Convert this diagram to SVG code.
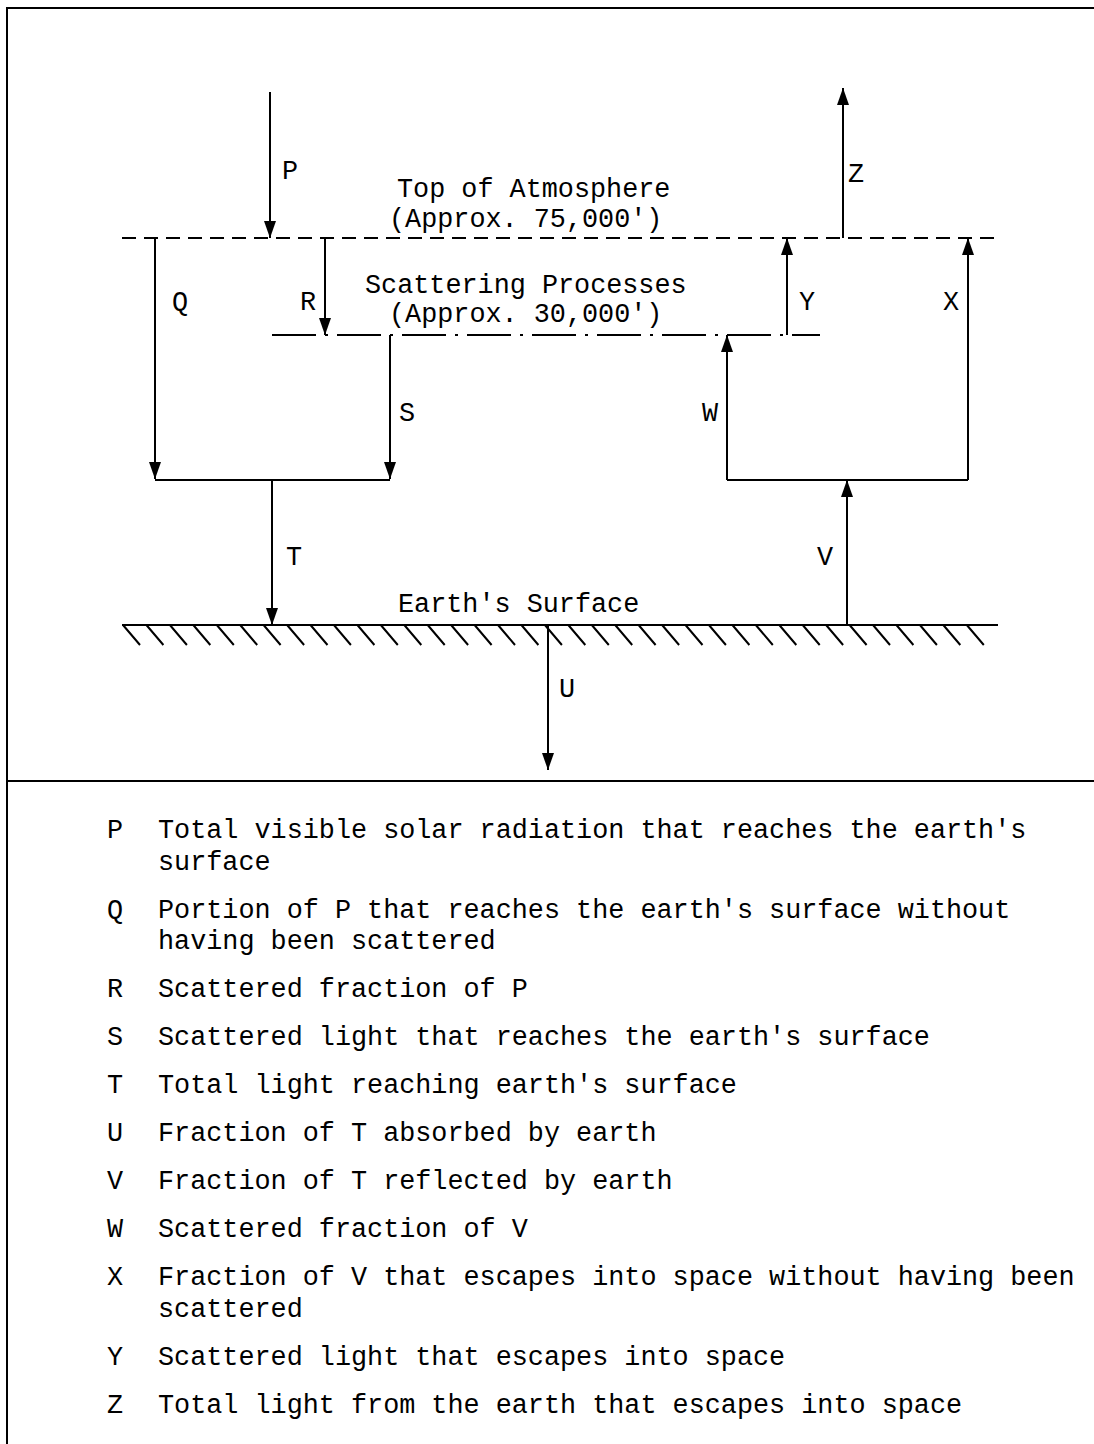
<svg xmlns="http://www.w3.org/2000/svg" width="1094" height="1444" viewBox="0 0 1094 1444">
<defs>
<marker id="ah" markerUnits="userSpaceOnUse" markerWidth="18" markerHeight="12" viewBox="0 0 18 12" refX="17" refY="6" orient="auto">
<path d="M0,0 L17,6 L0,12 Z" fill="#000"/>
</marker>
</defs>
<style>
text{font-family:"Liberation Mono","Courier New",monospace;font-size:26.8px;fill:#000}
.ln{stroke:#000;stroke-width:2;fill:none}
.arr{stroke:#000;stroke-width:2;fill:none}
.dash{stroke:#000;stroke-width:2;fill:none;stroke-dasharray:14 8}
.dd{stroke:#000;stroke-width:2;fill:none;stroke-dasharray:44 9 3 9}
.hatch{stroke:#000;stroke-width:2}
</style>
<rect width="1094" height="1444" fill="#fff"/>
<g id="frame">
<path class="ln" d="M1094,8 H7 V1444"/>
<path class="ln" d="M7,781 H1094"/>
</g>
<g id="levels">
<line class="dash" x1="122" y1="238" x2="1000" y2="238"/>
<line class="dd" x1="272" y1="335" x2="820" y2="335"/>
<line class="ln" x1="122" y1="625" x2="998" y2="625"/>
<g id="hatching" class="hatch">
<path d="M123,625 l17,20 M146.4,625 l17,20 M169.9,625 l17,20 M193.3,625 l17,20 M216.8,625 l17,20 M240.2,625 l17,20 M263.6,625 l17,20 M287.1,625 l17,20 M310.5,625 l17,20 M333.9,625 l17,20 M357.4,625 l17,20 M380.8,625 l17,20 M404.3,625 l17,20 M427.7,625 l17,20 M451.1,625 l17,20 M474.6,625 l17,20 M498,625 l17,20 M521.4,625 l17,20 M544.9,625 l17,20 M568.3,625 l17,20 M591.8,625 l17,20 M615.2,625 l17,20 M638.6,625 l17,20 M662.1,625 l17,20 M685.5,625 l17,20 M708.9,625 l17,20 M732.4,625 l17,20 M755.8,625 l17,20 M779.3,625 l17,20 M802.7,625 l17,20 M826.1,625 l17,20 M849.6,625 l17,20 M873,625 l17,20 M896.4,625 l17,20 M919.9,625 l17,20 M943.3,625 l17,20 M966.8,625 l17,20"/>
</g>
</g>
<g id="connectors">
<line class="arr" x1="270" y1="92" x2="270" y2="238" marker-end="url(#ah)"/>
<path class="arr" d="M155,238 V479" marker-end="url(#ah)"/>
<path class="arr" d="M325,238 V335" marker-end="url(#ah)"/>
<path class="arr" d="M390,335 V479" marker-end="url(#ah)"/>
<path class="ln" d="M155,480 H390"/>
<path class="arr" d="M272,480 V625" marker-end="url(#ah)"/>
<path class="arr" d="M548,625 V770" marker-end="url(#ah)"/>
<path class="arr" d="M847,625 V480" marker-end="url(#ah)"/>
<path class="ln" d="M727,480 H968"/>
<path class="arr" d="M727,480 V335" marker-end="url(#ah)"/>
<path class="arr" d="M968,480 V238" marker-end="url(#ah)"/>
<path class="arr" d="M787,335 V238" marker-end="url(#ah)"/>
<path class="arr" d="M843,238 V88" marker-end="url(#ah)"/>
</g>
<g id="labels">
<text x="282" y="179">P</text>
<text x="172" y="310">Q</text>
<text x="300" y="310">R</text>
<text x="399" y="421">S</text>
<text x="286" y="565">T</text>
<text x="559" y="697">U</text>
<text x="817" y="565">V</text>
<text x="702" y="421">W</text>
<text x="943" y="310">X</text>
<text x="799" y="310">Y</text>
<text x="848" y="182">Z</text>
</g>
<g id="titles">
<text x="397" y="197">Top of Atmosphere</text>
<text x="389" y="227">(Approx. 75,000')</text>
<text x="365" y="293">Scattering Processes</text>
<text x="389" y="322">(Approx. 30,000')</text>
<text x="398" y="612">Earth's Surface</text>
</g>
<g id="legend">
<text x="107" y="838">P</text><text x="158" y="838">Total visible solar radiation that reaches the earth's</text>
<text x="158" y="870">surface</text>
<text x="107" y="918">Q</text><text x="158" y="918">Portion of P that reaches the earth's surface without</text>
<text x="158" y="949">having been scattered</text>
<text x="107" y="997">R</text><text x="158" y="997">Scattered fraction of P</text>
<text x="107" y="1045">S</text><text x="158" y="1045">Scattered light that reaches the earth's surface</text>
<text x="107" y="1093">T</text><text x="158" y="1093">Total light reaching earth's surface</text>
<text x="107" y="1141">U</text><text x="158" y="1141">Fraction of T absorbed by earth</text>
<text x="107" y="1189">V</text><text x="158" y="1189">Fraction of T reflected by earth</text>
<text x="107" y="1237">W</text><text x="158" y="1237">Scattered fraction of V</text>
<text x="107" y="1285">X</text><text x="158" y="1285">Fraction of V that escapes into space without having been</text>
<text x="158" y="1317">scattered</text>
<text x="107" y="1365">Y</text><text x="158" y="1365">Scattered light that escapes into space</text>
<text x="107" y="1413">Z</text><text x="158" y="1413">Total light from the earth that escapes into space</text>
</g>
</svg>
